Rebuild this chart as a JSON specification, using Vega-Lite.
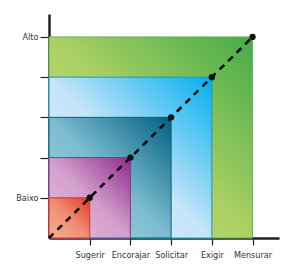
{
  "$schema": "https://vega.github.io/schema/vega-lite/v6.json",
  "width": 230,
  "height": 224,
  "autosize": {"type": "none"},
  "padding": {"left": 49, "top": 14, "right": 11, "bottom": 29},
  "background": "white",
  "config": {
    "view": {"stroke": null},
    "font": "Liberation Sans Narrow, DejaVu Sans Condensed, sans-serif"
  },
  "data": {
    "values": [
      {"etapa": "Sugerir", "nivel": 1},
      {"etapa": "Encorajar", "nivel": 2},
      {"etapa": "Solicitar", "nivel": 3},
      {"etapa": "Exigir", "nivel": 4},
      {"etapa": "Mensurar", "nivel": 5}
    ]
  },
  "layer": [
    {
      "transform": [{"filter": "datum.etapa === 'Mensurar'"}],
      "mark": {"type": "rect", "strokeWidth": 1, "stroke": "#5db45a",
        "fill": {"gradient": "linear", "x1": 0, "y1": 1, "x2": 1, "y2": 0,
          "stops": [{"offset": 0, "color": "#c8de70"}, {"offset": 0.5, "color": "#acd064"}, {"offset": 1, "color": "#45aa48"}]}},
      "encoding": {
        "x": {"field": "nivel", "type": "quantitative", "scale": {"domain": [0, 5.65], "nice": false, "zero": true},
          "axis": {"values": [1, 2, 3, 4, 5], "title": null, "grid": false, "labelOverlap": false,
            "labelExpr": "['', 'Sugerir', 'Encorajar', 'Solicitar', 'Exigir', 'Mensurar'][datum.value]",
            "domainColor": "#222", "domainWidth": 2.5, "tickColor": "#222", "tickWidth": 1.2, "tickSize": 7,
            "labelFontSize": 9, "labelColor": "#333", "labelPadding": 5, "labelFont": "Liberation Sans Narrow, DejaVu Sans Condensed, sans-serif"}},
        "x2": {"datum": 0},
        "y": {"field": "nivel", "type": "quantitative", "scale": {"domain": [0, 5.57], "nice": false, "zero": true},
          "axis": {"values": [1, 2, 3, 4, 5], "title": null, "grid": false, "labelOverlap": false,
            "labelExpr": "datum.value == 1 ? 'Baixo' : datum.value == 5 ? 'Alto' : ''",
            "domainColor": "#222", "domainWidth": 2.5, "tickColor": "#222", "tickWidth": 1.2, "tickSize": 9,
            "labelFontSize": 9, "labelColor": "#333", "labelPadding": 2, "labelFont": "Liberation Sans Narrow, DejaVu Sans Condensed, sans-serif"}},
        "y2": {"datum": 0}
      }
    },
    {
      "transform": [{"filter": "datum.etapa === 'Exigir'"}],
      "mark": {"type": "rect", "strokeWidth": 1, "stroke": "#1596d0",
        "fill": {"gradient": "linear", "x1": 0, "y1": 1, "x2": 1, "y2": 0,
          "stops": [{"offset": 0, "color": "#e2f2fc"}, {"offset": 0.5, "color": "#c4e4f7"}, {"offset": 1, "color": "#00aeef"}]}},
      "encoding": {
        "x": {"field": "nivel", "type": "quantitative"}, "x2": {"datum": 0},
        "y": {"field": "nivel", "type": "quantitative"}, "y2": {"datum": 0}
      }
    },
    {
      "transform": [{"filter": "datum.etapa === 'Solicitar'"}],
      "mark": {"type": "rect", "strokeWidth": 1, "stroke": "#0a5f80",
        "fill": {"gradient": "linear", "x1": 0, "y1": 1, "x2": 1, "y2": 0,
          "stops": [{"offset": 0, "color": "#a4d6e4"}, {"offset": 0.5, "color": "#7cbccf"}, {"offset": 1, "color": "#005f82"}]}},
      "encoding": {
        "x": {"field": "nivel", "type": "quantitative"}, "x2": {"datum": 0},
        "y": {"field": "nivel", "type": "quantitative"}, "y2": {"datum": 0}
      }
    },
    {
      "transform": [{"filter": "datum.etapa === 'Encorajar'"}],
      "mark": {"type": "rect", "strokeWidth": 1, "stroke": "#93318f",
        "fill": {"gradient": "linear", "x1": 0, "y1": 1, "x2": 1, "y2": 0,
          "stops": [{"offset": 0, "color": "#e8bde0"}, {"offset": 0.5, "color": "#d29fcb"}, {"offset": 1, "color": "#8f2b8c"}]}},
      "encoding": {
        "x": {"field": "nivel", "type": "quantitative"}, "x2": {"datum": 0},
        "y": {"field": "nivel", "type": "quantitative"}, "y2": {"datum": 0}
      }
    },
    {
      "transform": [{"filter": "datum.etapa === 'Sugerir'"}],
      "mark": {"type": "rect", "strokeWidth": 1, "stroke": "#e0302a",
        "fill": {"gradient": "linear", "x1": 0, "y1": 1, "x2": 1, "y2": 0,
          "stops": [{"offset": 0, "color": "#f7b095"}, {"offset": 0.5, "color": "#f08c70"}, {"offset": 1, "color": "#df3b2b"}]}},
      "encoding": {
        "x": {"field": "nivel", "type": "quantitative"}, "x2": {"datum": 0},
        "y": {"field": "nivel", "type": "quantitative"}, "y2": {"datum": 0}
      }
    },
    {
      "mark": {"type": "rule", "color": "#111", "strokeWidth": 2, "strokeDash": [6, 6]},
      "encoding": {
        "x": {"datum": 0, "type": "quantitative"},
        "y": {"datum": 0, "type": "quantitative"},
        "x2": {"datum": 5},
        "y2": {"datum": 5}
      }
    },
    {
      "mark": {"type": "point", "filled": true, "color": "#111", "size": 40, "opacity": 1},
      "encoding": {
        "x": {"field": "nivel", "type": "quantitative"},
        "y": {"field": "nivel", "type": "quantitative"}
      }
    }
  ]
}
